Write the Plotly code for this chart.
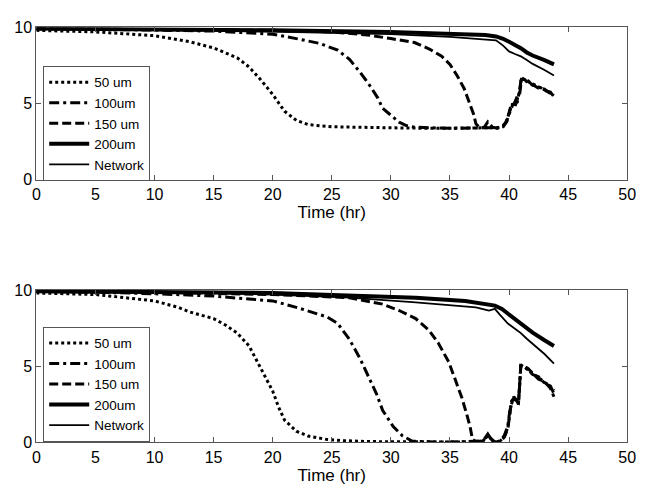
import plotly.graph_objects as go

# ---------------- Data: top panel ----------------
top_t50 = [0, 5, 10, 13, 15, 16, 17, 18, 19, 20, 21, 22, 23, 25, 28, 31, 34, 36, 38, 39,
           39.5, 39.8, 40.1, 40.3, 40.5, 40.7, 40.9, 41.05, 41.3, 41.6, 42.0, 42.5, 43.0, 43.5, 43.8]
top_v50 = [9.8, 9.7, 9.45, 9.05, 8.65, 8.35, 8.0, 7.4, 6.55, 5.6, 4.5, 3.9, 3.62, 3.48, 3.42, 3.4, 3.38, 3.38, 3.4, 3.42,
           3.5, 3.9, 4.6, 5.0, 4.8, 5.3, 5.8, 6.7, 6.55, 6.45, 6.3, 6.1, 5.9, 5.7, 5.55]

top_t100 = [0, 5, 10, 15, 18, 20, 22, 24, 25.5, 26.5, 27.4, 28.2, 28.9, 29.3, 29.9, 30.7, 31.3, 32, 34, 36, 38,
            39, 39.5, 39.8, 40.1, 40.3, 40.5, 40.7, 40.9, 41.05, 41.3, 41.6, 42.0, 42.5, 43.0, 43.5, 43.8]
top_v100 = [9.9, 9.88, 9.82, 9.75, 9.65, 9.55, 9.26, 8.94, 8.5, 7.9, 7.05, 6.2, 5.36, 4.7, 4.3, 3.78, 3.56, 3.45, 3.4, 3.38, 3.42,
            3.4, 3.55, 3.85, 4.5, 4.9, 5.0, 5.1, 5.9, 6.75, 6.5, 6.5, 6.2, 6.15, 5.85, 5.75, 5.45]

top_t150 = [0, 10, 20, 25, 28, 30, 32, 33.3, 34.3, 35, 35.6, 36.2, 36.6, 37, 37.2, 37.5, 37.9, 38.2, 38.6, 39,
            39.5, 39.8, 40.1, 40.3, 40.5, 40.7, 40.9, 41.05, 41.3, 41.6, 42.0, 42.5, 43.0, 43.5, 43.8]
top_v150 = [9.9, 9.87, 9.8, 9.7, 9.5, 9.26, 9.0, 8.56, 8.1, 7.57, 6.84, 5.99, 5.15, 4.3, 3.67, 3.42, 3.45, 3.8, 3.45, 3.38,
            3.48, 3.8, 4.7, 4.8, 5.1, 5.5, 5.6, 6.6, 6.6, 6.35, 6.25, 6.0, 5.95, 5.65, 5.6]

top_t200 = [0, 10, 20, 30, 35, 38, 38.9, 39.5, 40, 40.5, 41, 41.5, 42, 43, 43.8]
top_v200 = [9.92, 9.88, 9.8, 9.7, 9.6, 9.5, 9.4, 9.25, 9.05, 8.85, 8.63, 8.35, 8.15, 7.85, 7.57]

top_tnet = [0, 10, 20, 30, 35, 38, 38.9, 39.5, 40, 40.5, 41, 41.5, 42, 43, 43.8]
top_vnet = [9.92, 9.85, 9.72, 9.55, 9.37, 9.22, 9.15, 8.8, 8.42, 8.25, 8.1, 7.85, 7.6, 7.2, 6.84]

# ---------------- Data: bottom panel ----------------
bot_t50 = [0, 5, 10, 12, 13, 15, 16, 17, 18, 19, 20, 20.5, 21, 22, 23, 24.5, 26, 28, 31, 34, 36, 37.8,
           38.2, 38.5, 38.8, 39.2, 39.6, 39.9, 40.05, 40.2, 40.4, 40.6, 40.8, 41.0, 41.3, 41.6, 42.0, 42.5, 43.0, 43.5, 43.8]
bot_v50 = [9.8, 9.7, 9.28, 8.86, 8.55, 8.12, 7.7, 7.17, 6.33, 4.85, 3.37, 2.32, 1.47, 0.74, 0.42, 0.21, 0.12, 0.06, 0.04, 0.03, 0.03, 0.08,
           0.45, 0.2, 0.02, 0.05, 0.4, 1.0, 1.9, 2.6, 2.95, 2.7, 2.6, 5.0, 4.95, 4.75, 4.5, 4.25, 3.95, 3.65, 3.4]

bot_t100 = [0, 5, 10, 15, 18, 20, 22, 24.6, 25.5, 26.5, 27.4, 28.2, 28.8, 29.3, 30.2, 31, 31.8, 33, 35, 37.8,
            38.2, 38.5, 38.8, 39.2, 39.6, 39.9, 40.05, 40.2, 40.4, 40.6, 40.8, 41.0, 41.3, 41.6, 42.0, 42.5, 43.0, 43.5, 43.8]
bot_v100 = [9.9, 9.85, 9.75, 9.6, 9.4, 9.28, 8.86, 8.23, 7.8, 6.75, 5.49, 4.22, 3.16, 2.11, 1.05, 0.42, 0.1, 0.04, 0.03, 0.1,
            0.5, 0.25, 0.0, 0.1, 0.45, 1.1, 2.0, 2.5, 3.0, 2.8, 2.5, 5.1, 4.9, 4.8, 4.45, 4.3, 3.9, 3.7, 3.2]

bot_t150 = [0, 10, 20, 24, 26.5, 29.3, 30.7, 32.1, 33.2, 34.0, 34.9, 35.4, 36.0, 36.4, 36.7, 36.9, 37.2, 37.8,
            38.2, 38.5, 38.8, 39.2, 39.6, 39.9, 40.05, 40.2, 40.4, 40.6, 40.8, 41.0, 41.3, 41.6, 42.0, 42.5, 43.0, 43.5, 43.8]
bot_v150 = [9.9, 9.85, 9.7, 9.6, 9.49, 9.07, 8.65, 8.12, 7.38, 6.54, 5.27, 4.22, 2.95, 1.9, 1.05, 0.21, 0.05, 0.12,
            0.55, 0.15, 0.05, 0.0, 0.35, 0.9, 1.8, 2.7, 2.9, 2.75, 2.65, 5.05, 5.0, 4.85, 4.55, 4.15, 4.0, 3.55, 3.0]

bot_t200 = [0, 10, 20, 23.8, 28, 32.1, 36.3, 38.8, 39.4, 39.9, 40.5, 41, 41.5, 42, 43, 43.8]
bot_v200 = [9.92, 9.88, 9.8, 9.7, 9.6, 9.49, 9.28, 8.97, 8.75, 8.44, 8.1, 7.8, 7.5, 7.2, 6.7, 6.33]

bot_tnet = [0, 10, 20, 26.5, 32.1, 37.2, 38.3, 38.8, 39.2, 39.9, 40.5, 41, 41.5, 42, 43, 43.8]
bot_vnet = [9.92, 9.85, 9.7, 9.49, 9.18, 8.86, 8.65, 8.76, 8.4, 7.8, 7.45, 7.17, 6.8, 6.45, 5.8, 5.17]

names = ["50 um", "100um", "150 um", "200um", "Network"]
x_ticks = [0, 5, 10, 15, 20, 25, 30, 35, 40, 45, 50]
y_ticks = [0, 5, 10]

styles = [
    dict(width=3, dash="3px,3px"),
    dict(width=3, dash="10px,4px,3px,4px"),
    dict(width=3, dash="9px,4px"),
    dict(width=4, dash="solid"),
    dict(width=1.8, dash="solid"),
]

top = [(top_t50, top_v50), (top_t100, top_v100), (top_t150, top_v150), (top_t200, top_v200), (top_tnet, top_vnet)]
bot = [(bot_t50, bot_v50), (bot_t100, bot_v100), (bot_t150, bot_v150), (bot_t200, bot_v200), (bot_tnet, bot_vnet)]

fig = go.Figure()
for (t, v), nm, st in zip(top, names, styles):
    fig.add_trace(go.Scatter(x=t, y=v, mode="lines", name=nm, line=dict(color="black", **st),
                             xaxis="x", yaxis="y", legend="legend"))
for (t, v), nm, st in zip(bot, names, styles):
    fig.add_trace(go.Scatter(x=t, y=v, mode="lines", name=nm, line=dict(color="black", **st),
                             xaxis="x2", yaxis="y2", legend="legend2"))

W, H = 647, 493
xd = [33 / W, 636 / W]
font = dict(family="Liberation Sans, Arial, sans-serif", size=16, color="black")
title_font = dict(family=font["family"], size=17, color="black")

axis_common = dict(showline=True, linecolor="#555", linewidth=1, mirror="ticks", ticks="inside",
                   ticklen=5, tickcolor="#555", showgrid=False, zeroline=False, tickfont=font)

legend_common = dict(xanchor="left", yanchor="top", bgcolor="white", bordercolor="#555", borderwidth=1,
                     font=dict(family=font["family"], size=13.5, color="black"), tracegroupgap=0, itemwidth=40)

fig.update_layout(
    width=W, height=H, margin=dict(l=0, r=0, t=0, b=0),
    paper_bgcolor="white", plot_bgcolor="white", font=font,
    xaxis=dict(domain=xd, range=[0, 50], tickvals=x_ticks, anchor="y",
               title=dict(text="Time (hr)", font=title_font, standoff=0), **axis_common),
    yaxis=dict(domain=[(H - 178) / H, (H - 20) / H], range=[0, 10], tickvals=y_ticks, anchor="x", **axis_common),
    xaxis2=dict(domain=xd, range=[0, 50], tickvals=x_ticks, anchor="y2",
                title=dict(text="Time (hr)", font=title_font, standoff=0), **axis_common),
    yaxis2=dict(domain=[(H - 450) / H, (H - 292) / H], range=[0, 10], tickvals=y_ticks, anchor="x2", **axis_common),
    legend=dict(x=40 / W, y=(H - 60) / H, **legend_common),
    legend2=dict(x=40 / W, y=(H - 330) / H, **legend_common),
)

fig.write_html("out.html")
